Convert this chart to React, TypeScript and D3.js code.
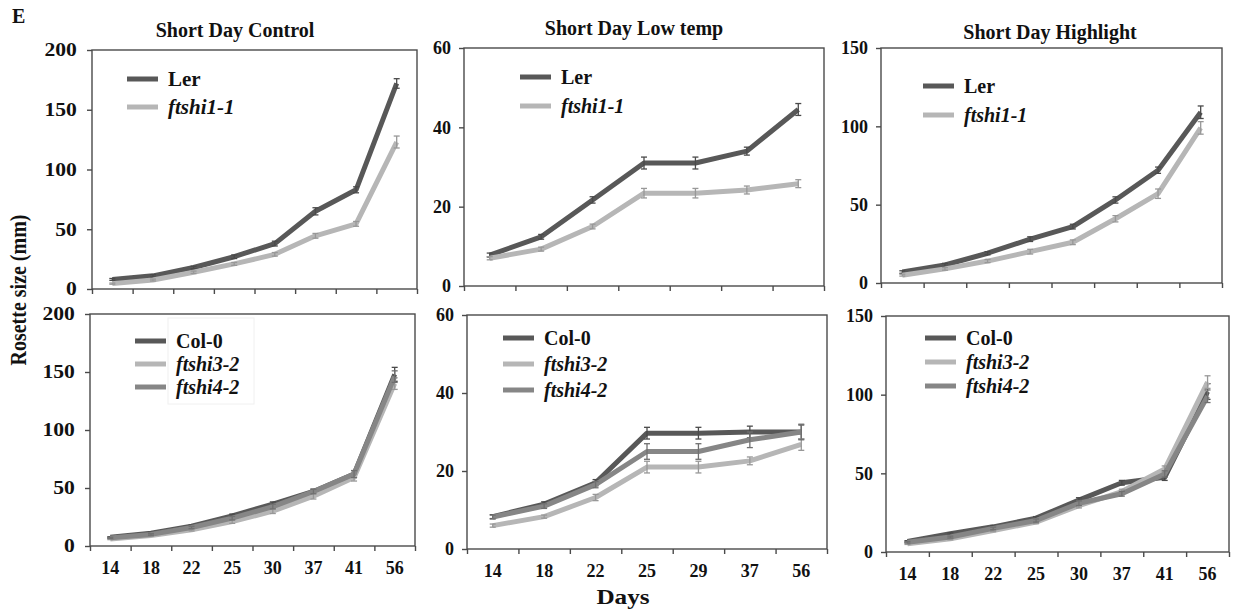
import { useEffect, useRef } from 'react';
import * as d3 from 'd3';

const daysMain = ['14', '18', '22', '25', '30', '37', '41', '56'];
const daysLow = ['14', '18', '22', '25', '29', '37', '56'];

// Short Day Control (Ler background)
const sdcLer = [8, 11, 18, 27, 38, 65, 83, 172];
const sdcLerErr = [0.8, 1, 1, 1.5, 2, 3, 2.5, 4];
const sdcFtshi11 = [4.5, 7.5, 14, 21, 29, 44.5, 54.5, 123];
const sdcFtshi11Err = [0.5, 0.8, 1, 1.2, 1.5, 2, 2, 5];

// Short Day Low temp (Ler background)
const sdlLer = [7.8, 12.4, 21.7, 31, 31, 34, 44.5];
const sdlLerErr = [0.5, 0.6, 0.8, 1.5, 1.5, 1, 1.5];
const sdlFtshi11 = [7, 9.3, 15, 23.4, 23.4, 24.2, 25.8];
const sdlFtshi11Err = [0.4, 0.5, 0.6, 1.2, 1.2, 1, 1];

// Short Day Highlight (Ler background)
const sdhLer = [7, 11.5, 19, 28, 36, 53, 72, 109];
const sdhLerErr = [0.8, 1, 1, 1.5, 1.5, 2, 2, 4];
const sdhFtshi11 = [5, 9, 14, 20, 26, 41, 57, 99];
const sdhFtshi11Err = [0.6, 0.8, 1, 1.5, 1.5, 2, 3, 4];

// Short Day Control (Col-0 background)
const sdcCol = [7.5, 11, 17, 26, 36, 47, 62, 148];
const sdcColErr = [0.5, 0.8, 1, 1.5, 2, 2, 3, 6];
const sdcFtshi32 = [6, 9, 14, 21, 30, 43, 59, 140];
const sdcFtshi32Err = [0.5, 0.6, 1, 1.5, 2, 2.5, 3, 5];
const sdcFtshi42 = [7, 10, 16, 24, 34, 47, 62, 146];
const sdcFtshi42Err = [0.5, 0.7, 1, 1.5, 2, 2, 3, 5];

// Short Day Low temp (Col-0 background)
const sdlCol = [8.3, 11.5, 17, 29.7, 29.7, 30, 30];
const sdlColErr = [0.5, 0.6, 0.8, 1.5, 1.5, 1.5, 1.8];
const sdlFtshi32 = [6, 8.3, 13.2, 21, 21, 22.6, 26.8];
const sdlFtshi32Err = [0.4, 0.4, 0.8, 1.5, 1.5, 1, 1.5];
const sdlFtshi42 = [8.2, 11, 16.5, 25, 25, 28, 30];
const sdlFtshi42Err = [0.5, 0.6, 0.8, 2, 2, 2, 2];

// Short Day Highlight (Col-0 background)
const sdhCol = [6.7, 11.6, 16, 21.5, 33, 44, 47.5, 102];
const sdhColErr = [0.5, 0.6, 0.8, 1, 1.5, 1.5, 2, 5];
const sdhFtshi32 = [5.3, 8.4, 13.7, 19, 29.5, 38.4, 52.7, 108];
const sdhFtshi32Err = [0.5, 0.6, 0.8, 1, 1.5, 1.5, 2, 4];
const sdhFtshi42 = [6.2, 9.5, 15, 20, 31, 37, 49.6, 99];
const sdhFtshi42Err = [0.5, 0.6, 0.8, 1, 1.5, 1.5, 2, 4];

const titles = ['Short Day Control', 'Short Day Low temp', 'Short Day Highlight'];

const DARK = '#585858';
const LIGHT = '#b6b6b6';
const MID = '#868686';
const FONT = "'Liberation Serif', 'DejaVu Serif', serif";

type Series = { name: string; italic: boolean; color: string; values: number[]; err: number[] };

const lerSeries = (v1: number[], e1: number[], v2: number[], e2: number[]): Series[] => [
  { name: 'Ler', italic: false, color: DARK, values: v1, err: e1 },
  { name: 'ftshi1-1', italic: true, color: LIGHT, values: v2, err: e2 },
];
const colSeries = (
  v1: number[], e1: number[], v2: number[], e2: number[], v3: number[], e3: number[],
): Series[] => [
  { name: 'Col-0', italic: false, color: DARK, values: v1, err: e1 },
  { name: 'ftshi3-2', italic: true, color: LIGHT, values: v2, err: e2 },
  { name: 'ftshi4-2', italic: true, color: MID, values: v3, err: e3 },
];

const panels = [
  {
    x0: 92, x1: 417, yTop: 50, yBot: 289, yMax: 200, yTicks: [0, 50, 100, 150, 200],
    days: daysMain, series: lerSeries(sdcLer, sdcLerErr, sdcFtshi11, sdcFtshi11Err),
    legend: { x: 127, y: 79, gap: 28, size: 21 }, sx: 1.2, xLabels: false, box: false,
  },
  {
    x0: 464, x1: 824, yTop: 48, yBot: 286, yMax: 60, yTicks: [0, 20, 40, 60],
    days: daysLow, series: lerSeries(sdlLer, sdlLerErr, sdlFtshi11, sdlFtshi11Err),
    legend: { x: 520, y: 77, gap: 29, size: 20 }, sx: 1, xLabels: false, box: false,
  },
  {
    x0: 881, x1: 1222, yTop: 48, yBot: 283, yMax: 150, yTicks: [0, 50, 100, 150],
    days: daysMain, series: lerSeries(sdhLer, sdhLerErr, sdhFtshi11, sdhFtshi11Err),
    legend: { x: 923, y: 86, gap: 29, size: 20 }, sx: 1, xLabels: false, box: false,
  },
  {
    x0: 90, x1: 415, yTop: 314, yBot: 546, yMax: 200, yTicks: [0, 50, 100, 150, 200],
    days: daysMain,
    series: colSeries(sdcCol, sdcColErr, sdcFtshi32, sdcFtshi32Err, sdcFtshi42, sdcFtshi42Err),
    legend: { x: 135, y: 341, gap: 23, size: 20 }, sx: 1.2, xLabels: true, box: true,
  },
  {
    x0: 467, x1: 827, yTop: 315, yBot: 549, yMax: 60, yTicks: [0, 20, 40, 60],
    days: daysLow,
    series: colSeries(sdlCol, sdlColErr, sdlFtshi32, sdlFtshi32Err, sdlFtshi42, sdlFtshi42Err),
    legend: { x: 503, y: 338, gap: 26, size: 20 }, sx: 1, xLabels: true, box: false,
  },
  {
    x0: 886, x1: 1229, yTop: 316, yBot: 552, yMax: 150, yTicks: [0, 50, 100, 150],
    days: daysMain,
    series: colSeries(sdhCol, sdhColErr, sdhFtshi32, sdhFtshi32Err, sdhFtshi42, sdhFtshi42Err),
    legend: { x: 925, y: 338, gap: 24, size: 20 }, sx: 1, xLabels: true, box: false,
  },
];

export default function App() {
  const svgRef = useRef<SVGSVGElement>(null);

  useEffect(() => {
    if (!svgRef.current) return;
    const svg = d3.select(svgRef.current);
    svg.selectAll('*').remove();

    // soft edge like the scanned figure; user space so flat lines keep their area
    svg.append('defs').append('filter')
      .attr('id', 'soft')
      .attr('filterUnits', 'userSpaceOnUse')
      .attr('x', 0).attr('y', 0).attr('width', 1235).attr('height', 611)
      .append('feGaussianBlur').attr('stdDeviation', 0.75);

    const text = (
      g: any, x: number, y: number, s: string,
      opts: { size?: number; anchor?: string; italic?: boolean; sx?: number; rotate?: number } = {},
    ) => {
      const { size = 20, anchor = 'start', italic = false, sx = 1, rotate = 0 } = opts;
      return g.append('text')
        .attr('transform', `translate(${x},${y}) scale(${sx},1)${rotate ? ` rotate(${rotate})` : ''}`)
        .attr('text-anchor', anchor)
        .attr('font-family', FONT)
        .attr('font-weight', 'bold')
        .attr('font-style', italic ? 'italic' : 'normal')
        .attr('font-size', size)
        .attr('fill', '#111')
        .text(s);
    };

    text(svg, 12, 23, 'E', { size: 20 });
    text(svg, 26, 290, 'Rosette size (mm)', { size: 20, anchor: 'middle', sx: 1.2, rotate: -90 });
    text(svg, 623, 604, 'Days', { size: 21, anchor: 'middle', sx: 1.2 });

    const titleX = [235, 634, 1050];
    const titleY = [37, 35, 39];
    titles.forEach((t, i) => text(svg, titleX[i], titleY[i], t, { size: 20, anchor: 'middle' }));

    panels.forEach((p) => {
      const g = svg.append('g');
      const x = d3.scaleBand<string>().domain(p.days).range([p.x0, p.x1]).padding(0);
      const xb = d3.scaleLinear().domain([0, p.days.length]).range([p.x0, p.x1]);
      const y = d3.scaleLinear().domain([0, p.yMax]).range([p.yBot, p.yTop]);
      const cx = (d: string) => (x(d) ?? 0) + x.bandwidth() / 2;

      // frame
      g.append('rect')
        .attr('x', p.x0).attr('y', p.yTop)
        .attr('width', p.x1 - p.x0).attr('height', p.yBot - p.yTop)
        .attr('fill', '#fff').attr('stroke', '#4a4a4a').attr('stroke-width', 1.4);

      // y axis
      const ya = g.append('g')
        .attr('transform', `translate(${p.x0},0)`)
        .call(d3.axisLeft(y).tickValues(p.yTicks).tickSize(5).tickPadding(8 / p.sx + (p.sx > 1 ? 1 : 0)));
      ya.select('.domain').remove();
      ya.selectAll('.tick line').attr('stroke', '#4a4a4a').attr('stroke-width', 1.4);
      ya.selectAll('text')
        .attr('font-family', FONT).attr('font-weight', 'bold')
        .attr('font-size', 18).attr('fill', '#111')
        .attr('transform', `scale(${p.sx},1)`);

      // x boundary ticks
      const xa = g.append('g')
        .attr('transform', `translate(0,${p.yBot})`)
        .call(d3.axisBottom(xb).tickValues(d3.range(p.days.length + 1)).tickFormat(() => '').tickSize(5));
      xa.select('.domain').remove();
      xa.selectAll('.tick line').attr('stroke', '#4a4a4a').attr('stroke-width', 1.4);

      if (p.xLabels) {
        const xl = g.append('g')
          .attr('transform', `translate(0,${p.yBot})`)
          .call(d3.axisBottom(x).tickSize(0).tickPadding(15));
        xl.select('.domain').remove();
        xl.selectAll('text')
          .attr('font-family', FONT).attr('font-weight', 'bold')
          .attr('font-size', 18).attr('fill', '#111');
      }

      const line = d3.line<number>()
        .x((_, i) => cx(p.days[i]))
        .y((d) => y(d));

      p.series.forEach((s) => {
        g.append('path')
          .datum(s.values)
          .attr('fill', 'none')
          .attr('stroke', s.color)
          .attr('stroke-width', 5)
          .attr('stroke-linejoin', 'round')
          .attr('filter', 'url(#soft)')
          .attr('d', line);

        const eb = g.append('g').attr('stroke', d3.color(s.color)!.darker(0.5).formatHex()).attr('stroke-width', 1.3);
        s.values.forEach((v, i) => {
          const px = cx(p.days[i]);
          const lo = y(v - s.err[i]);
          const hi = y(v + s.err[i]);
          eb.append('line').attr('x1', px).attr('x2', px).attr('y1', lo).attr('y2', hi);
          eb.append('line').attr('x1', px - 3).attr('x2', px + 3).attr('y1', lo).attr('y2', lo);
          eb.append('line').attr('x1', px - 3).attr('x2', px + 3).attr('y1', hi).attr('y2', hi);
        });
      });

      // legend
      if (p.box) {
        g.append('rect')
          .attr('x', p.legend.x + 33).attr('y', p.legend.y - 23)
          .attr('width', 86).attr('height', 86)
          .attr('fill', '#fff').attr('stroke', '#f0f0f0').attr('stroke-width', 1);
      }
      p.series.forEach((s, i) => {
        const ly = p.legend.y + i * p.legend.gap;
        g.append('line')
          .attr('x1', p.legend.x).attr('x2', p.legend.x + 31)
          .attr('y1', ly).attr('y2', ly)
          .attr('stroke', s.color).attr('stroke-width', 5)
          .attr('filter', 'url(#soft)');
        text(g, p.legend.x + 41, ly + 7, s.name, { size: p.legend.size, italic: s.italic });
      });
    });
  }, []);

  return (
    <svg
      ref={svgRef}
      width={1235}
      height={611}
      style={{ position: 'absolute', left: 0, top: 0, background: '#fff' }}
    />
  );
}
